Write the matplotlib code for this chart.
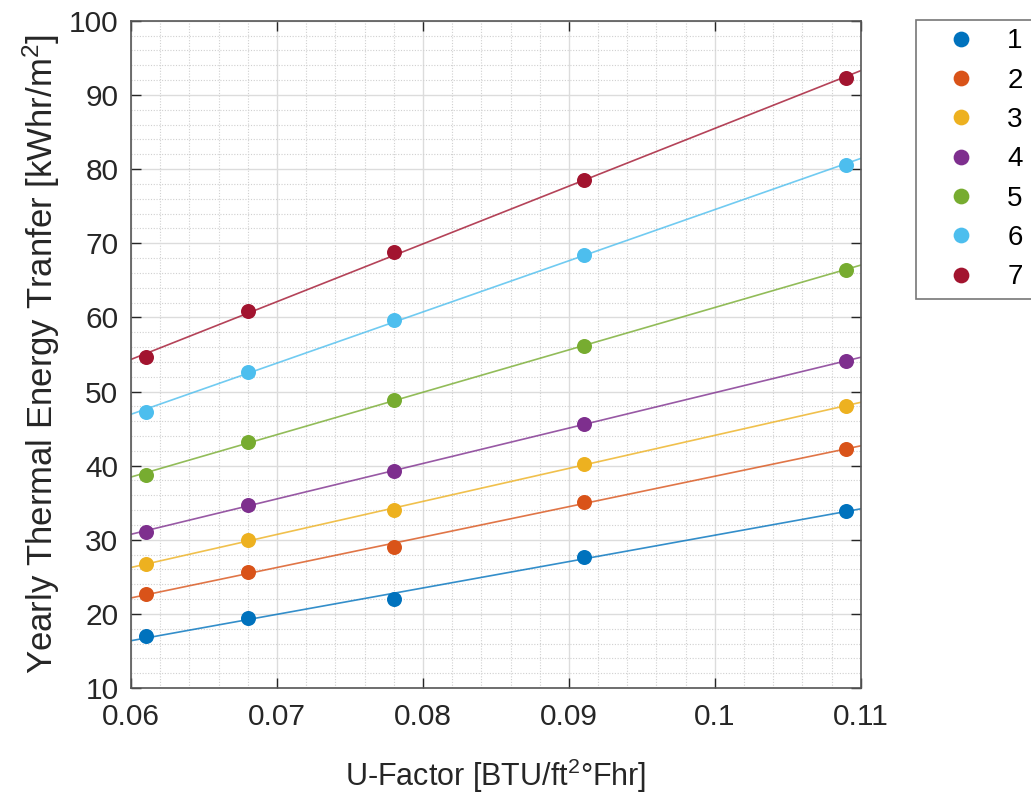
import numpy as np
import matplotlib
matplotlib.use('Agg')
from matplotlib import pyplot as plt
from matplotlib.ticker import MultipleLocator

plt.rcParams['font.family'] = ['Liberation Sans', 'DejaVu Sans']
plt.rcParams['mathtext.fontset'] = 'custom'
plt.rcParams['mathtext.rm'] = 'Liberation Sans'
plt.rcParams['mathtext.it'] = 'Liberation Sans:italic'

# ── Data ───────────────────────────────────────────────────────────────────
u_factor = [0.061, 0.068, 0.078, 0.091, 0.109]

series_labels = ['1', '2', '3', '4', '5', '6', '7']
s1 = [17.0, 19.4, 22.0, 27.7, 33.9]
s2 = [22.7, 25.6, 29.0, 35.1, 42.3]
s3 = [26.7, 30.0, 34.0, 40.2, 48.1]
s4 = [31.1, 34.7, 39.3, 45.6, 54.1]
s5 = [38.8, 43.2, 48.9, 56.2, 66.4]
s6 = [47.3, 52.6, 59.6, 68.4, 80.6]
s7 = [54.6, 60.8, 68.8, 78.5, 92.3]
series = [s1, s2, s3, s4, s5, s6, s7]

x_ticks = [0.06, 0.07, 0.08, 0.09, 0.10, 0.11]
x_ticklabels = ['0.06', '0.07', '0.08', '0.09', '0.1', '0.11']

colors = ['#0072BD', '#D95319', '#EDB120', '#7E2F8E',
          '#77AC30', '#4DBEEE', '#A2142F']

# ── Figure ─────────────────────────────────────────────────────────────────
fig = plt.figure(figsize=(10.31, 8.01), dpi=100)
ax = fig.add_axes([0.127, 0.141, 0.708, 0.833])

x_fit = np.array([0.06, 0.11])
for lab, ys, c in zip(series_labels, series, colors):
    # linear fit line across the full axis
    p = np.polyfit(u_factor, ys, 1)
    ax.plot(x_fit, np.polyval(p, x_fit), color=c, lw=1.2, alpha=0.8,
            zorder=2)
    ax.plot(u_factor, ys, 'o', color=c, markersize=10.8, label=lab,
            zorder=3, markeredgewidth=0)

ax.set_xlim(0.06, 0.11)
ax.set_ylim(10, 100)
ax.set_xticks(x_ticks)
ax.set_xticklabels(x_ticklabels)
ax.xaxis.set_minor_locator(MultipleLocator(0.002))
ax.yaxis.set_major_locator(MultipleLocator(10))
ax.yaxis.set_minor_locator(MultipleLocator(2))

ax.grid(True, which='major', color='#dcdcdc', lw=1.0, zorder=0)
ax.grid(True, which='minor', color='#d0d0d0', lw=0.8, linestyle=(0, (1, 1.5)),
        zorder=0)
ax.set_axisbelow(True)

ax.tick_params(which='major', direction='in', length=7, width=1.0,
               top=True, right=True, labelsize=21.5, colors='#262626')
ax.tick_params(axis='x', pad=11)
ax.tick_params(axis='y', pad=9)
ax.tick_params(which='minor', length=0, top=True, right=True)
for sp in ax.spines.values():
    sp.set_color('#555555')
    sp.set_linewidth(1.2)

ax.set_xlabel(r'U-Factor [BTU/ft$^{2}$°Fhr]', fontsize=22, color='#262626',
              labelpad=18)
ax.set_ylabel(r'Yearly Thermal Energy Tranfer [kWhr/m$^{2}$]', fontsize=25,
              color='#262626', labelpad=5)

leg = fig.legend(loc='upper left', bbox_to_anchor=(0.888, 0.975, 0.2, 0.0),
                 mode='expand', borderaxespad=0, fontsize=20, frameon=True,
                 fancybox=False, handletextpad=0.35, labelspacing=0.48,
                 borderpad=0.3, handlelength=2.65, markerscale=1.05)
leg.get_frame().set_edgecolor('#555555')
leg.get_frame().set_linewidth(1.2)

fig.savefig('out.png', dpi=100)
